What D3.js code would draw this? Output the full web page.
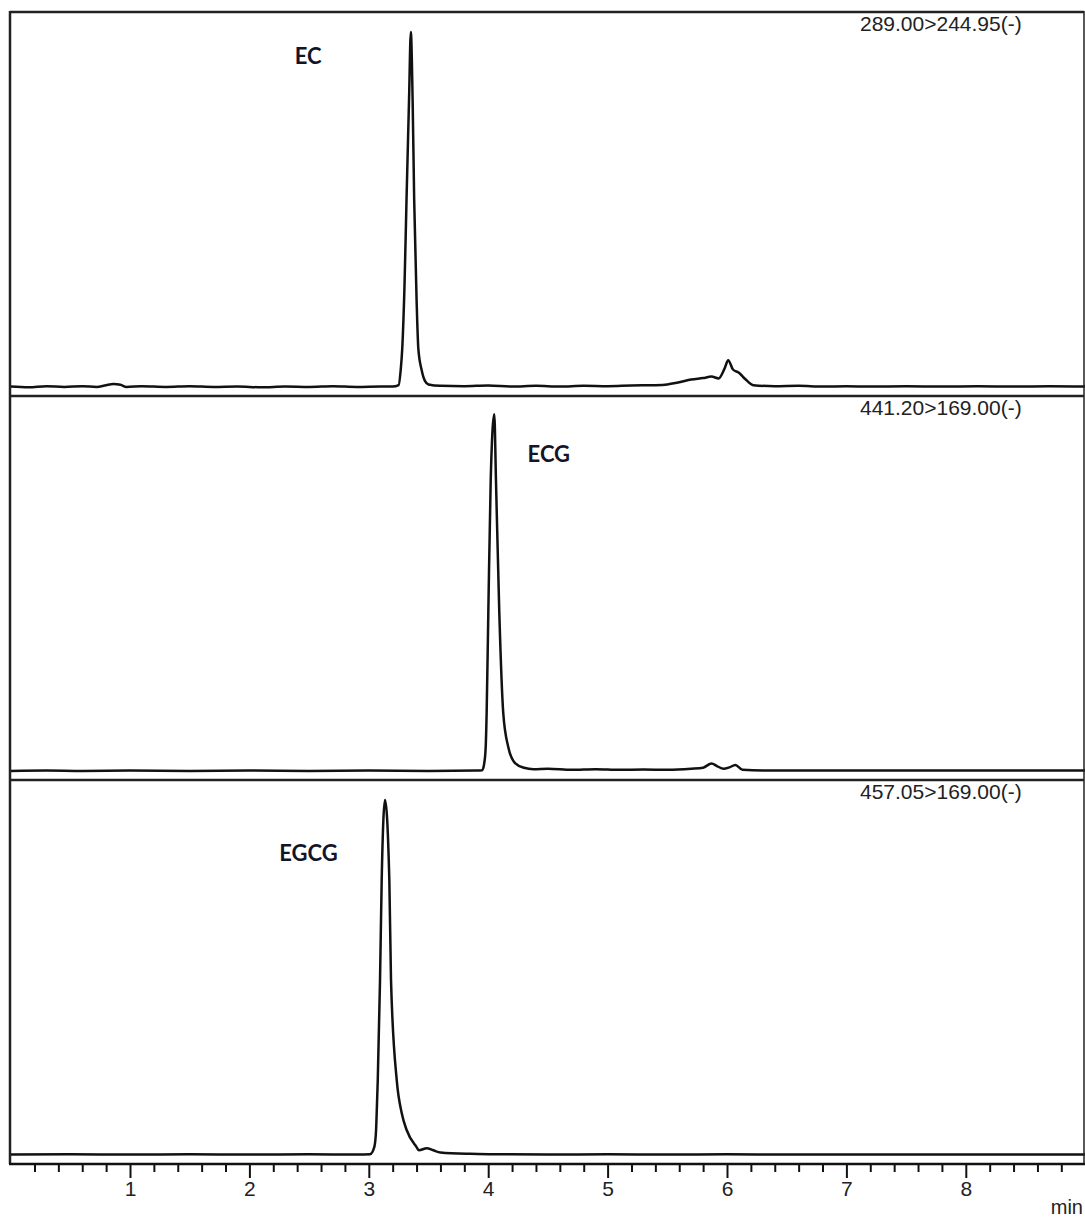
<!DOCTYPE html>
<html>
<head>
<meta charset="utf-8">
<script src="https://cdn.jsdelivr.net/npm/d3@7"></script>
<style>
  body { margin: 0; background: #fff; }
  svg { display: block; }
</style>
</head>
<body>
<script>
// peak names, MRM transitions and label anchors (time, % intensity)
var peakNames = ["EC", "ECG", "EGCG"];
var transitions = ["289.00>244.95(-)", "441.20>169.00(-)", "457.05>169.00(-)"];
var labelTimes = [2.38, 4.33, 2.25];
var labelLevels = [91, 87, 83];

// traces: [time (min), relative intensity (%)]
var ecTrace = [
  [0, 0.4], [0.15, 0.2], [0.3, 0.5], [0.45, 0.3], [0.6, 0.5], [0.72, 0.3], [0.8, 0.8], [0.86, 1.1],
  [0.92, 0.9], [0.97, 0.3], [1.1, 0.5], [1.3, 0.3], [1.5, 0.5], [1.7, 0.3], [1.9, 0.4], [2.1, 0.2],
  [2.3, 0.4], [2.5, 0.3], [2.7, 0.5], [2.9, 0.3], [3.1, 0.4], [3.2, 0.4], [3.25, 0.8], [3.267, 5],
  [3.28, 11], [3.3, 30], [3.316, 53], [3.337, 81], [3.352, 100], [3.367, 81], [3.38, 53], [3.4, 25],
  [3.415, 11], [3.443, 5], [3.47, 2], [3.5, 1], [3.6, 0.6], [3.8, 0.5], [4.0, 0.7], [4.2, 0.4],
  [4.4, 0.6], [4.6, 0.4], [4.8, 0.6], [5.0, 0.5], [5.2, 0.7], [5.4, 0.8], [5.5, 1.0], [5.6, 1.6],
  [5.7, 2.4], [5.8, 2.8], [5.87, 3.2], [5.93, 2.7], [5.98, 5.5], [6.01, 7.8], [6.05, 5.2], [6.1, 4.3],
  [6.15, 2.6], [6.22, 0.8], [6.4, 0.5], [6.6, 0.6], [6.8, 0.4], [7.0, 0.5], [7.2, 0.4], [7.5, 0.5],
  [7.8, 0.4], [8.1, 0.5], [8.4, 0.4], [8.7, 0.5], [9, 0.4]
];
var ecgTrace = [
  [0, 0.3], [0.3, 0.4], [0.6, 0.3], [1, 0.4], [1.5, 0.3], [2, 0.4], [2.5, 0.3], [3, 0.4], [3.5, 0.3],
  [3.9, 0.4], [3.95, 0.5], [3.967, 2.5], [3.979, 7], [3.987, 16.6], [4.001, 44.7], [4.021, 82],
  [4.051, 100.5], [4.065, 82], [4.093, 44.7], [4.126, 16.6], [4.168, 7], [4.225, 2.5], [4.3, 1.2],
  [4.38, 0.8], [4.5, 0.9], [4.7, 0.6], [4.9, 0.8], [5.1, 0.6], [5.3, 0.7], [5.5, 0.6], [5.7, 0.9],
  [5.8, 1.2], [5.87, 2.4], [5.92, 1.6], [5.97, 0.9], [6.02, 1.3], [6.07, 2.0], [6.13, 0.6], [6.3, 0.4],
  [6.6, 0.4], [7, 0.4], [7.5, 0.4], [8, 0.4], [8.5, 0.4], [9, 0.4]
];
var egcgTrace = [
  [0, 0.4], [0.5, 0.5], [1, 0.4], [1.5, 0.5], [2, 0.4], [2.5, 0.5], [2.9, 0.4], [3.01, 0.5],
  [3.046, 2.5], [3.061, 7.3], [3.066, 12], [3.075, 21.3], [3.094, 49.4], [3.108, 77.5], [3.136, 100],
  [3.172, 77.5], [3.186, 49.4], [3.234, 21.3], [3.276, 12], [3.317, 7.3], [3.4, 2.5], [3.42, 1.6],
  [3.485, 2.2], [3.54, 1.6], [3.6, 1.0], [3.85, 0.6], [4.02, 0.5], [4.5, 0.4], [5, 0.5], [5.5, 0.4],
  [6, 0.5], [6.5, 0.4], [7, 0.4], [7.5, 0.4], [8, 0.4], [8.5, 0.4], [9, 0.4]
];
var traces = [ecTrace, ecgTrace, egcgTrace];

var majorTicks = [1, 2, 3, 4, 5, 6, 7, 8];
var minorTicks = d3.range(1, 45).map(function (i) { return i / 5; })
  .filter(function (t) { return Math.abs(t - Math.round(t)) > 1e-6; });

var W = 1085, H = 1217;
var frameLeft = 10, frameRight = 1084, frameTop = 12, axisY = 1164;

var svg = d3.select("body").append("svg").attr("width", W).attr("height", H);

var x = d3.scaleLinear().domain([0, 9]).range([10.6, 1085.2]);

// one band per trace
var panel = d3.scaleBand().domain(d3.range(traces.length)).range([frameTop, axisY]);

var line = d3.line().curve(d3.curveMonotoneX);

traces.forEach(function (data, i) {
  var y0 = panel(i), h = panel.bandwidth();
  var y = d3.scaleLinear().domain([0, 100]).range([y0 + h - 8, y0 + 20]);

  var g = svg.append("g");

  line.x(function (d) { return x(d[0]); }).y(function (d) { return y(d[1]); });

  g.append("path")
    .datum(data)
    .attr("fill", "none")
    .attr("stroke", "#111")
    .attr("stroke-width", 2.5)
    .attr("stroke-linejoin", "round")
    .attr("d", line);

  // divider / top border
  g.append("line")
    .attr("x1", frameLeft).attr("x2", frameRight)
    .attr("y1", y0).attr("y2", y0)
    .attr("stroke", "#222").attr("stroke-width", 2.5);

  g.append("text")
    .attr("x", 860)
    .attr("y", y0 + 19)
    .attr("font-family", "Liberation Sans, Arial, sans-serif")
    .attr("font-size", 21)
    .attr("fill", "#222")
    .text(transitions[i]);

  g.append("text")
    .attr("x", x(labelTimes[i]))
    .attr("y", y(labelLevels[i]))
    .attr("font-family", "Lato, Open Sans, sans-serif")
    .attr("font-weight", "bold")
    .attr("font-size", 22)
    .attr("fill", "#141428")
    .text(peakNames[i]);
});

// frame sides
svg.append("line")
  .attr("x1", frameLeft).attr("x2", frameLeft).attr("y1", frameTop - 1).attr("y2", axisY)
  .attr("stroke", "#222").attr("stroke-width", 2.5);
svg.append("line")
  .attr("x1", frameRight).attr("x2", frameRight).attr("y1", frameTop - 1).attr("y2", axisY)
  .attr("stroke", "#222").attr("stroke-width", 1.5);

// x axis
var axisG = svg.append("g").attr("transform", "translate(0," + axisY + ")");

axisG.append("g")
  .call(d3.axisBottom(x).tickValues(minorTicks).tickSize(8).tickFormat(""))
  .call(function (s) { s.select(".domain").remove(); })
  .selectAll("line").attr("stroke", "#111").attr("stroke-width", 2);

axisG.append("g")
  .call(d3.axisBottom(x).tickValues(majorTicks).tickSize(14).tickPadding(3).tickFormat(d3.format("d")))
  .attr("font-family", "Liberation Sans, Arial, sans-serif")
  .attr("font-size", 21)
  .call(function (s) { s.select(".domain").remove(); })
  .call(function (s) {
    s.selectAll("line").attr("stroke", "#111").attr("stroke-width", 2);
    s.selectAll("text").attr("fill", "#222");
  });

axisG.append("line")
  .attr("x1", frameLeft - 1).attr("x2", W)
  .attr("y1", 0).attr("y2", 0)
  .attr("stroke", "#111").attr("stroke-width", 2.5);

svg.append("text")
  .attr("x", 1083)
  .attr("y", 1214)
  .attr("text-anchor", "end")
  .attr("font-family", "Liberation Sans, Arial, sans-serif")
  .attr("font-size", 20)
  .attr("fill", "#222")
  .text("min");
</script>
</body>
</html>
